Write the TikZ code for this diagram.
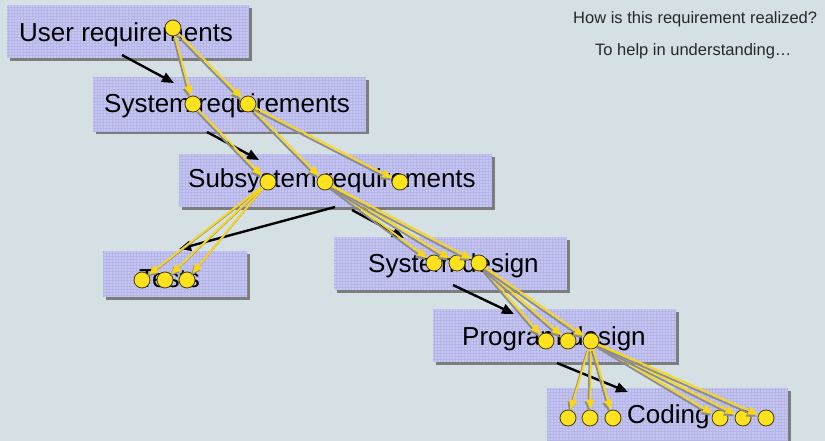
\documentclass[tikz,border=0pt]{standalone}
\usepackage{fontspec}
\setmainfont{Liberation Sans}
\usetikzlibrary{arrows.meta,shadows}

\definecolor{bg}{RGB}{213,224,228}
\definecolor{boxfill}{RGB}{198,198,245}
\definecolor{boxgrid}{RGB}{182,182,230}
\definecolor{boxshade}{RGB}{125,125,125}
\definecolor{dot}{RGB}{255,226,30}
\definecolor{dotrim}{RGB}{70,60,0}
\definecolor{linkcol}{RGB}{250,215,20}
\definecolor{linkshade}{RGB}{140,140,140}
\definecolor{notecol}{RGB}{40,40,40}

% yellow trace link with its grey drop line
\newcommand\yconn[2]{%
  \draw[yshadow] (#1) -- (#2);
  \draw[yarrow] (#1) -- (#2);}

\begin{document}
\begin{tikzpicture}[x=1pt,y=-1pt,
  box/.style={fill=boxfill, anchor=north west, inner sep=0pt,
    drop shadow={shadow xshift=3pt, shadow yshift=-3pt, fill=boxshade, opacity=1},
    path picture={\draw[boxgrid, line width=0.5pt, step=3pt]
      (path picture bounding box.south west) grid (path picture bounding box.north east);}},
  boxtext/.style={anchor=base west, inner sep=0pt, font=\fontsize{26}{30}\selectfont},
  dotnode/.style={circle, draw=dotrim, line width=0.8pt, fill=dot, minimum size=16pt, inner sep=0pt},
  yarrow/.style={draw=linkcol, line width=1.8pt, -{Triangle[length=10pt,width=8pt]}},
  yshadow/.style={draw=linkshade, line width=1.8pt, -{Triangle[length=10pt,width=8pt]},
    transform canvas={shift={(-1.5pt,-2pt)}}},
  flowarrow/.style={draw=black, line width=2.4pt, -{Triangle[length=12pt,width=10pt]}},
  notetext/.style={anchor=base west, inner sep=0pt, text=notecol, font=\fontsize{16.5}{20}\selectfont}
]
\useasboundingbox (0,0) rectangle (825,441);
\fill[bg] (0,0) rectangle (825,441);

% development stage boxes
\node[box, minimum width=242pt, minimum height=53pt] (b1) at (7,5) {};
\node[box, minimum width=273pt, minimum height=54pt] (b2) at (93,77) {};
\node[box, minimum width=313pt, minimum height=53pt] (b3) at (179,154) {};
\node[box, minimum width=144pt, minimum height=46pt] (b4) at (103,251) {};
\node[box, minimum width=233pt, minimum height=53pt] (b5) at (334,237) {};
\node[box, minimum width=243pt, minimum height=53pt] (b6) at (433,309) {};
\node[box, minimum width=241pt, minimum height=56pt] (b7) at (547,388) {};

\node[boxtext] (l1) at (19,42) {User requirements};
\node[boxtext] (l2) at (104,113) {System requirements};
\node[boxtext] (l3) at (188,188) {Subsystem requirements};
\node[boxtext] (l4) at (139,287) {Tests};
\node[boxtext] (l5) at (368,272) {System design};
\node[boxtext] (l6) at (462,345) {Program design};
\node[boxtext] (l7) at (627,423) {Coding};

% questions
\node[notetext] (q1) at (573,24) {How is this requirement realized?};
\node[notetext] (q2) at (595,56) {To help in understanding…};

% refinement flow between stages
\coordinate (f1a) at (122,55);  \coordinate (f1b) at (174,83);
\coordinate (f2a) at (207,132); \coordinate (f2b) at (259,160);
\coordinate (f3a) at (335,207); \coordinate (f3b) at (179,249);
\coordinate (f4a) at (352,210); \coordinate (f4b) at (404,238);
\coordinate (f5a) at (453,285); \coordinate (f5b) at (514,314);
\coordinate (f6a) at (557,363); \coordinate (f6b) at (628,392);
\draw[flowarrow] (f1a) -- (f1b);
\draw[flowarrow] (f2a) -- (f2b);
\draw[flowarrow] (f3a) -- (f3b);
\draw[flowarrow] (f4a) -- (f4b);
\draw[flowarrow] (f5a) -- (f5b);
\draw[flowarrow] (f6a) -- (f6b);

% traced items
\node[dotnode] (u1) at (173,28) {};
\node[dotnode] (s1) at (193,104) {};
\node[dotnode] (s2) at (248,104) {};
\node[dotnode] (ss1) at (268,182) {};
\node[dotnode] (ss2) at (325,182) {};
\node[dotnode] (ss3) at (400,182) {};
\node[dotnode] (t1) at (142,280) {};
\node[dotnode] (t2) at (165,280) {};
\node[dotnode] (t3) at (187,280) {};
\node[dotnode] (d1) at (434,263) {};
\node[dotnode] (d2) at (457,263) {};
\node[dotnode] (d3) at (479,263) {};
\node[dotnode] (p1) at (546,341) {};
\node[dotnode] (p2) at (568,341) {};
\node[dotnode] (p3) at (591,341) {};
\node[dotnode] (c1) at (568,418) {};
\node[dotnode] (c2) at (590,418) {};
\node[dotnode] (c3) at (613,418) {};
\node[dotnode] (c4) at (720,418) {};
\node[dotnode] (c5) at (743,418) {};
\node[dotnode] (c6) at (766,418) {};

% trace links
\yconn{u1}{s1}
\yconn{u1}{s2}
\yconn{s1}{ss1}
\yconn{s2}{ss2}
\yconn{s2}{ss3}
\yconn{ss1}{t1}
\yconn{ss1}{t2}
\yconn{ss1}{t3}
\yconn{ss2}{d1}
\yconn{ss2}{d2}
\yconn{ss2}{d3}
\yconn{d3}{p1}
\yconn{d3}{p2}
\yconn{d3}{p3}
\yconn{p3}{c1}
\yconn{p3}{c2}
\yconn{p3}{c3}
\yconn{p3}{c4}
\yconn{p3}{c5}
\yconn{p3}{c6}
\end{tikzpicture}
\end{document}
